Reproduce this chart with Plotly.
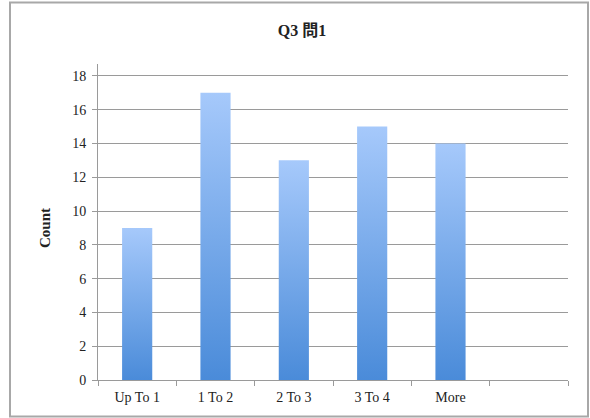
import plotly.graph_objects as go

# Histogram of answers for question 3, item 1
categories = ["Up To 1", "1 To 2", "2 To 3", "3 To 4", "More"]
counts = [9, 17, 13, 15, 14]
y_ticks = [0, 2, 4, 6, 8, 10, 12, 14, 16, 18]

BAR_WIDTH = 0.385
N_SLOTS = 6  # one trailing empty bin
FONT = "Liberation Serif, Noto Sans CJK JP, serif"
GRID = "#9a9a9a"

fig = go.Figure()

# each bar is a filled polygon so it can carry a vertical gradient
for i, (name, v) in enumerate(zip(categories, counts)):
    x0, x1 = i - BAR_WIDTH / 2, i + BAR_WIDTH / 2
    fig.add_trace(go.Scatter(
        x=[x0, x1, x1, x0, x0],
        y=[0, 0, v, v, 0],
        mode="lines",
        line=dict(width=0, color="rgba(0,0,0,0)"),
        fill="toself",
        fillgradient=dict(
            type="vertical",
            colorscale=[[0, "#4a8bd9"], [1, "#a6c9fb"]],
        ),
        name=name,
        hoverinfo="skip",
        showlegend=False,
    ))

fig.update_layout(
    width=590,
    height=418,
    margin=dict(l=98, r=22, t=64, b=38),
    paper_bgcolor="white",
    plot_bgcolor="white",
    font=dict(family=FONT, size=14, color="#222"),
    title=dict(
        text="<b>Q3 問1</b>",
        x=302 / 590, xref="container", xanchor="center",
        y=1 - 30 / 418, yref="container", yanchor="middle",
        font=dict(family=FONT, size=16, color="#222"),
    ),
    xaxis=dict(
        range=[-0.5, N_SLOTS - 0.5],
        tickvals=list(range(len(categories))),
        ticktext=categories,
        ticks="",
        ticklabelstandoff=4,
        showgrid=False,
        zeroline=False,
        showline=True,
        linecolor=GRID,
        linewidth=1,
        tickfont=dict(family=FONT, size=14, color="#222"),
        minor=dict(
            tick0=-0.5, dtick=1,
            ticks="outside", ticklen=5, tickwidth=1, tickcolor=GRID,
            showgrid=False,
        ),
        fixedrange=True,
    ),
    yaxis=dict(
        range=[0, 18.7],
        tickvals=y_ticks,
        ticks="outside",
        ticklen=5,
        tickwidth=1,
        tickcolor=GRID,
        ticklabelstandoff=3,
        showgrid=True,
        gridcolor=GRID,
        gridwidth=1,
        zeroline=False,
        showline=True,
        linecolor=GRID,
        linewidth=1,
        tickfont=dict(family=FONT, size=14, color="#222"),
        fixedrange=True,
    ),
    annotations=[dict(
        text="<b>Count</b>",
        xref="paper", yref="paper",
        x=(45 - 98) / 470, y=(380 - 228) / 316,
        xanchor="center", yanchor="middle",
        textangle=-90, showarrow=False,
        font=dict(family=FONT, size=15, color="#222"),
    )],
    shapes=[dict(
        type="rect", xref="paper", yref="paper",
        x0=(10 - 98) / 470, x1=(588 - 98) / 470,
        y0=(380 - 416.5) / 316, y1=(380 - 2.5) / 316,
        line=dict(color="#a8a8a8", width=2),
        fillcolor="rgba(0,0,0,0)",
        layer="below",
    )],
)

fig.write_html("out.html")
